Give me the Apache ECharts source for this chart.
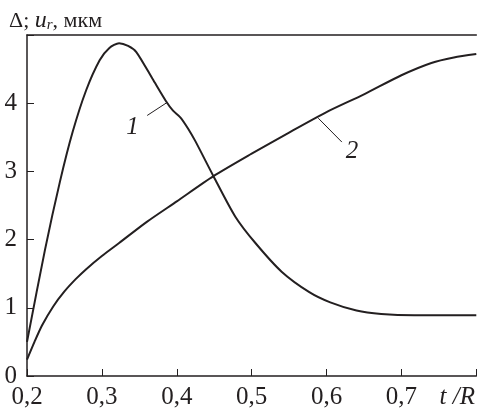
<!DOCTYPE html>
<html>
<head>
<meta charset="utf-8">
<script src="https://cdn.jsdelivr.net/npm/echarts@6/dist/echarts.min.js"></script>
<style>
  html, body { margin: 0; padding: 0; background: #fff; }
  #chart { width: 478px; height: 411px; }
</style>
</head>
<body>
<div id="chart"></div>
<script>
// curve 1: Δ vs t/R
const tRatio1 = [0.2, 0.224, 0.244, 0.261, 0.279, 0.297, 0.31, 0.323, 0.335, 0.346, 0.368, 0.385, 0.395, 0.405, 0.415, 0.425, 0.449, 0.478, 0.505, 0.54, 0.577, 0.605, 0.64, 0.673, 0.717, 0.8];
const delta1 = [0.5, 1.85, 2.85, 3.58, 4.19, 4.63, 4.81, 4.88, 4.84, 4.75, 4.35, 4.04, 3.89, 3.79, 3.63, 3.44, 2.93, 2.34, 1.95, 1.53, 1.23, 1.08, 0.96, 0.91, 0.89, 0.89];
// curve 2: u_r vs t/R
const tRatio2 = [0.2, 0.21, 0.22, 0.235, 0.25, 0.265, 0.279, 0.3, 0.323, 0.36, 0.4, 0.449, 0.5, 0.55, 0.6, 0.65, 0.7, 0.74, 0.77, 0.8];
const ur2 = [0.24, 0.5, 0.74, 1.02, 1.24, 1.42, 1.567, 1.76, 1.95, 2.26, 2.56, 2.93, 3.26, 3.57, 3.87, 4.13, 4.41, 4.59, 4.67, 4.72];

const xTicks = ['0,2', '0,3', '0,4', '0,5', '0,6', '0,7'];
const yTicks = ['0', '1', '2', '3', '4'];

// leader lines for curve labels [from, to] in data units
const leader1 = [[0.387, 4.01], [0.3605, 3.82]];
const leader2 = [[0.589, 3.78], [0.6205, 3.43]];

const ink = '#231f20';
const font = 'Liberation Serif';

const chart = echarts.init(document.getElementById('chart'));

function leader(pts, text, off) {
  return {
    silent: true,
    symbol: 'none',
    animation: false,
    lineStyle: { color: ink, width: 1, type: 'solid' },
    label: {
      show: true,
      position: 'end',
      formatter: text,
      color: ink,
      fontFamily: font,
      fontStyle: 'italic',
      fontSize: 25,
      distance: 3,
      offset: off
    },
    data: [[{ coord: pts[0] }, { coord: pts[1] }]]
  };
}

chart.setOption({
  animation: false,
  title: {
    left: 4,
    top: 4,
    text: '{a|Δ; }{i|u}{s|r}{a|, мкм}',
    textStyle: {
      fontWeight: 'normal',
      rich: {
        a: { fontFamily: font, fontSize: 22, fontWeight: 'normal', color: ink },
        i: { fontFamily: font, fontSize: 24, fontWeight: 'normal', fontStyle: 'italic', color: ink },
        s: { fontFamily: font, fontSize: 15, fontWeight: 'normal', fontStyle: 'italic', color: ink, padding: [9, 0, 0, 0] }
      }
    }
  },
  grid: { left: 27, top: 35, right: 0, bottom: 35 },
  xAxis: [
    {
      type: 'value',
      min: 0.2,
      max: 0.8,
      interval: 0.1,
      axisLine: { show: true, lineStyle: { color: ink, width: 1.5 } },
      axisTick: { show: true, inside: true, length: 7, lineStyle: { color: ink, width: 1 } },
      splitLine: { show: false },
      axisLabel: {
        margin: 9,
        color: ink,
        fontFamily: font,
        fontSize: 25,
        showMaxLabel: true,
        formatter: function (v) {
          const i = Math.round((v - 0.2) * 10);
          if (i < xTicks.length) return xTicks[i];
          return '{r|t /R}';
        },
        rich: {
          r: { fontFamily: font, fontSize: 25, fontStyle: 'italic', color: ink, padding: [0, 38, 0, 0] }
        }
      }
    },
    {
      type: 'value',
      position: 'top',
      min: 0.2,
      max: 0.8,
      axisLine: { show: true, lineStyle: { color: ink, width: 1.5 } },
      axisTick: { show: false },
      axisLabel: { show: false },
      splitLine: { show: false }
    }
  ],
  yAxis: {
    type: 'value',
    min: 0,
    max: 5,
    interval: 1,
    axisLine: { show: true, lineStyle: { color: ink, width: 1.5 } },
    axisTick: { show: true, inside: true, length: 7, lineStyle: { color: ink, width: 1 } },
    splitLine: { show: false },
    axisLabel: {
      margin: 10,
      color: ink,
      fontFamily: font,
      fontSize: 25,
      formatter: function (v) {
        return yTicks[Math.round(v)] || '';
      }
    }
  },
  series: [
    {
      name: '1',
      type: 'line',
      showSymbol: false,
      smooth: 0.25,
      lineStyle: { color: ink, width: 2 },
      data: tRatio1.map((t, i) => [t, delta1[i]]),
      markLine: leader(leader1, '1', [-6, 10])
    },
    {
      name: '2',
      type: 'line',
      showSymbol: false,
      smooth: 0.25,
      lineStyle: { color: ink, width: 2 },
      data: tRatio2.map((t, i) => [t, ur2[i]]),
      markLine: leader(leader2, '2', [8, 7])
    }
  ]
});
</script>
</body>
</html>
